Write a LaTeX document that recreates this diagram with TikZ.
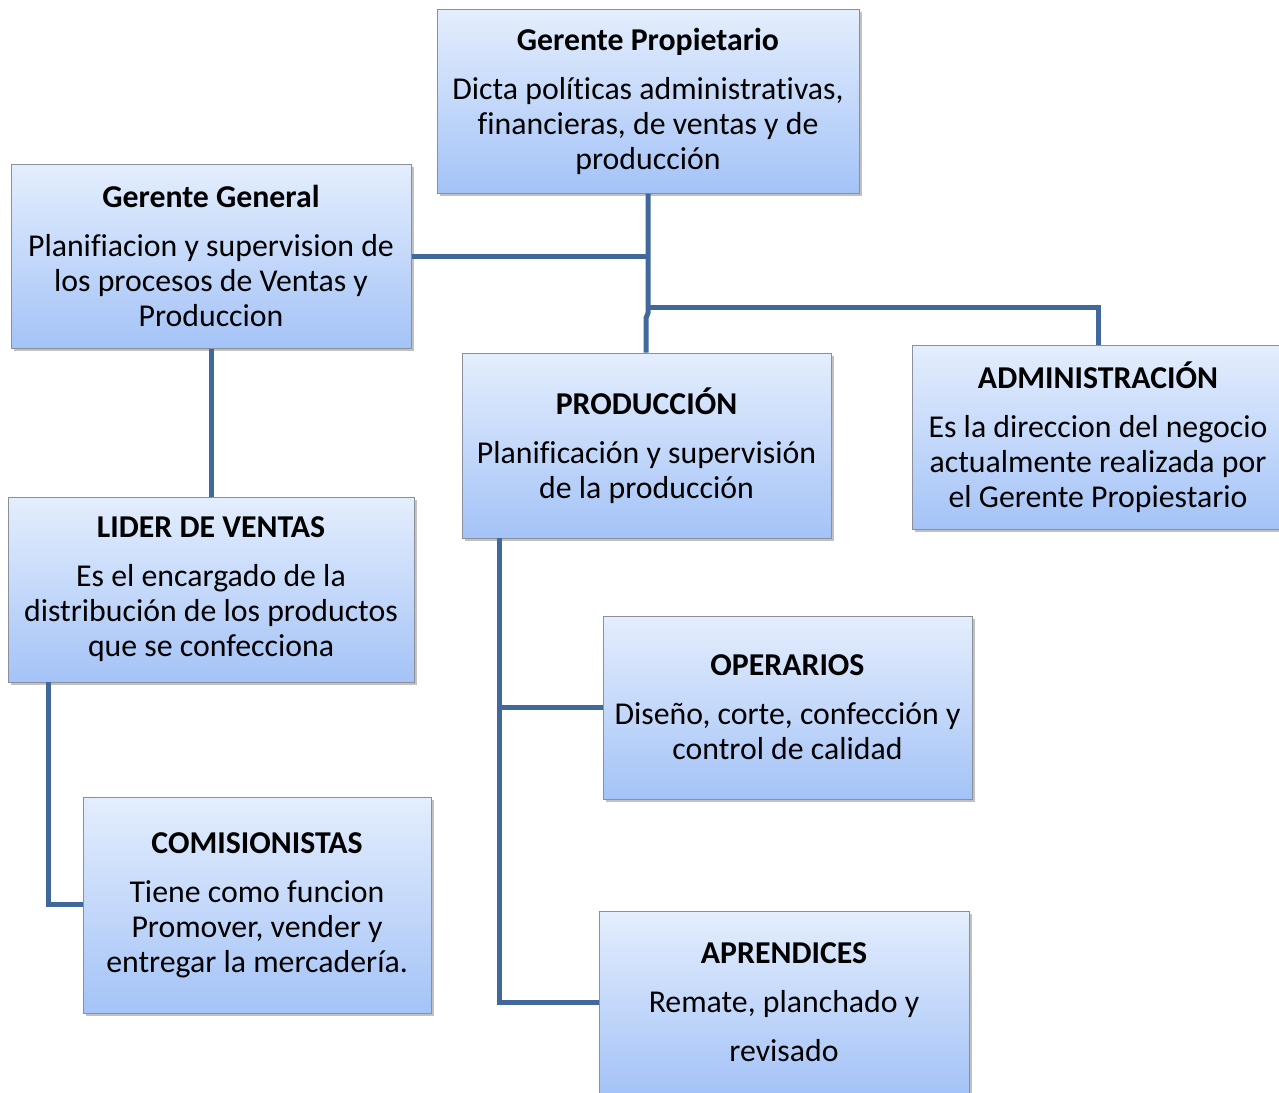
\documentclass[tikz,border=0pt]{standalone}
\usepackage{fontspec}
\setmainfont{Carlito}[Ligatures={NoCommon}, RawFeature={-liga;-calt;-dlig}]
\usetikzlibrary{shadows}
\definecolor{linec}{HTML}{41689C}
\definecolor{boxtop}{HTML}{E4EEFD}
\definecolor{boxbot}{HTML}{A4C3F7}
\definecolor{boxdraw}{HTML}{8A8F99}
\tikzset{
  orgbox/.style={draw=boxdraw, line width=1pt, top color=boxtop, bottom color=boxbot,
    drop shadow={shadow xshift=2.5pt, shadow yshift=-3pt, opacity=0.35, fill=black!70},
    align=center, inner sep=0pt, font=\fontsize{31.8}{35}\selectfont},
  conn/.style={draw=linec, line width=5pt, line cap=butt, line join=miter}
}
\begin{document}
\begin{tikzpicture}[x=1pt,y=-1pt]
\useasboundingbox (0,0) rectangle (1279,1092);
% Gerente Propietario
\node[orgbox, minimum width=422pt, minimum height=184pt] (gp) at (648,101)
  {\textbf{Gerente Propietario}\\[14pt]Dicta políticas administrativas,\\financieras, de ventas y de\\producción};
% Gerente General
\node[orgbox, minimum width=400pt, minimum height=184pt] (gg) at (211,256)
  {\textbf{Gerente General}\\[14pt]Planifiacion y supervision de\\los procesos de Ventas y\\Produccion};
% Produccion
\node[orgbox, minimum width=369pt, minimum height=185pt] (prod) at (646.5,445.5)
  {\textbf{PRODUCCIÓN}\\[14pt]Planificación y supervisión\\de la producción};
% Administracion
\node[orgbox, minimum width=372pt, minimum height=184pt] (adm) at (1098,437)
  {\textbf{ADMINISTRACIÓN}\\[14pt]Es la direccion del negocio\\actualmente realizada por\\el Gerente Propiestario};
% Lider de ventas
\node[orgbox, minimum width=406pt, minimum height=185pt] (lider) at (211,589.5)
  {\textbf{LIDER DE VENTAS}\\[14pt]Es el encargado de la\\distribución de los productos\\que se confecciona};
% Comisionistas
\node[orgbox, minimum width=348pt, minimum height=216pt] (comis) at (257,905)
  {\textbf{COMISIONISTAS}\\[14pt]Tiene como funcion\\Promover, vender y\\entregar la mercadería.};
% Operarios
\node[orgbox, minimum width=369pt, minimum height=183pt] (oper) at (787.5,707.5)
  {\textbf{OPERARIOS}\\[14pt]Diseño, corte, confección y\\control de calidad};
% Aprendices
\node[orgbox, minimum width=370pt, minimum height=182pt] (apren) at (784,1002)
  {\textbf{APRENDICES}\\[14pt]Remate, planchado y\\[14pt]revisado};
% junction coordinates
\coordinate (j1) at (648,256);
\coordinate (j2) at (648,307);
\coordinate (j3) at (648,313);
\coordinate (j4) at (646,318);
\coordinate (pb) at (499,538);
\coordinate (j5) at (499,707);
\coordinate (j6) at (499,1002);
\coordinate (lb) at (48,682);
\coordinate (j7) at (48,904);
% connectors
\draw[conn] (gp.south -| j1) -- (j3) -- (j4) -- (prod.north -| j4);
\draw[conn] (gg.east |- j1) -- (j1);
\draw[conn] (j2) -- (adm.north |- j2) -- (adm.north);
\draw[conn] (gg.south) -- (lider.north);
\draw[conn] (pb) -- (j6) -- (apren.west |- j6);
\draw[conn] (j5) -- (oper.west |- j5);
\draw[conn] (lb) -- (j7) -- (comis.west |- j7);
\end{tikzpicture}
\end{document}
